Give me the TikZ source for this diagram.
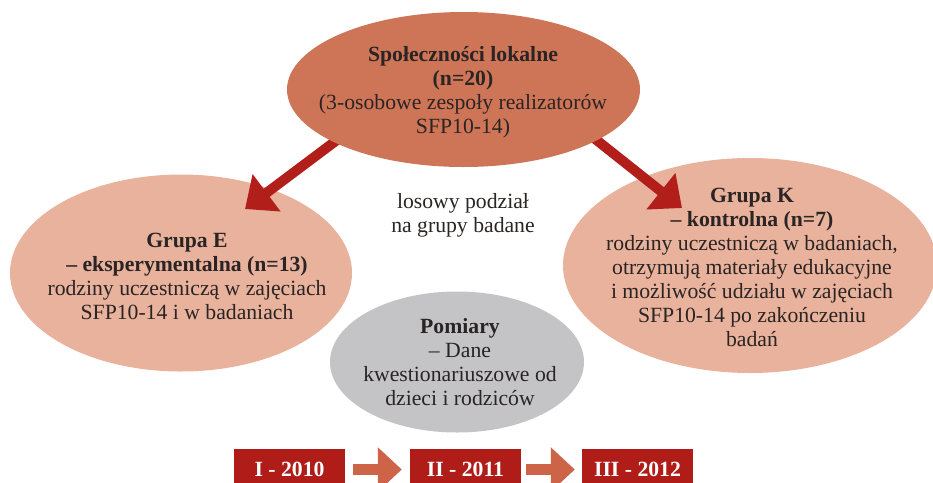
\documentclass[tikz,border=0pt]{standalone}
\usepackage{fontspec}
\setmainfont{Liberation Serif}
\usetikzlibrary{arrows.meta,shapes.geometric}
\definecolor{topc}{HTML}{CE7558}
\definecolor{sideC}{HTML}{E8B29C}
\definecolor{greyC}{HTML}{C4C4C6}
\definecolor{redA}{HTML}{B21E1A}
\definecolor{boxC}{HTML}{B01C17}
\definecolor{blkA}{HTML}{CD6448}
\definecolor{txtC}{HTML}{2A2424}
\tikzset{
  ell/.style={ellipse, inner sep=0pt, draw=none},
  lbl/.style={align=center, text=txtC, inner sep=0pt, font=\fontsize{21.7}{24}\selectfont},
  bigarrow/.style={draw=redA, line width=10pt, -{Triangle[length=27pt,width=45pt]}},
  yearbox/.style={fill=boxC, minimum width=111pt, minimum height=40pt, inner sep=0pt, text=white, font=\fontsize{21.7}{24}\selectfont\bfseries},
  blockarrow/.style={draw=blkA, line width=11pt, -{Triangle[length=24pt,width=43pt]}}
}
\begin{document}
\begin{tikzpicture}[x=1pt,y=-1pt]
\useasboundingbox (0,0) rectangle (933,482);
\clip (0,0) rectangle (933,482);
% side ellipses
\node[ell, fill=sideC, minimum width=342pt, minimum height=197pt] (grpE) at (181,273) {};
\node[ell, fill=sideC, minimum width=374pt, minimum height=215pt] (grpK) at (750,265.5) {};
\node[ell, fill=greyC, minimum width=254pt, minimum height=141pt] (pom) at (457,362) {};
% arrows
\coordinate (aLs) at (365,119);
\coordinate (aLe) at (245,209);
\coordinate (aRs) at (565,115);
\coordinate (aRe) at (682,208);
\draw[bigarrow] (aLs) -- (aLe);
\draw[bigarrow] (aRs) -- (aRe);
% top ellipse
\node[ell, fill=topc, minimum width=353pt, minimum height=155pt] (top) at (463.5,89.5) {};
% texts
\node[lbl] (topT) at (463,92) {\textbf{Społeczności lokalne}\\\textbf{(n=20)}\\(3-osobowe zespoły realizatorów\\SFP10-14)};
\node[lbl] (midT) at (463,215) {losowy podział\\na grupy badane};
\node[lbl] (eT) at (187,276) {\textbf{Grupa E}\\\textbf{– eksperymentalna (n=13)}\\rodziny uczestniczą w zajęciach\\SFP10-14 i w badaniach};
\node[lbl] (kT) at (752,267) {\textbf{Grupa K}\\\textbf{– kontrolna (n=7)}\\rodziny uczestniczą w badaniach,\\otrzymują materiały edukacyjne\\i możliwość udziału w zajęciach\\SFP10-14 po zakończeniu\\badań};
\node[lbl] (pT) at (460,362) {\textbf{Pomiary}\\– Dane\\kwestionariuszowe od\\dzieci i rodziców};
% year boxes
\node[yearbox] (y1) at (289.5,469) {\raisebox{-3pt}{I - 2010}};
\node[yearbox] (y2) at (465.5,469) {\raisebox{-3pt}{II - 2011}};
\node[yearbox] (y3) at (637.5,469) {\raisebox{-3pt}{III - 2012}};
\draw[blockarrow] ([xshift=8pt,yshift=-0.5pt]y1.east) -- ([xshift=-8pt,yshift=-0.5pt]y2.west);
\draw[blockarrow] ([xshift=5pt,yshift=-0.5pt]y2.east) -- ([xshift=-7pt,yshift=-0.5pt]y3.west);
\end{tikzpicture}
\end{document}
